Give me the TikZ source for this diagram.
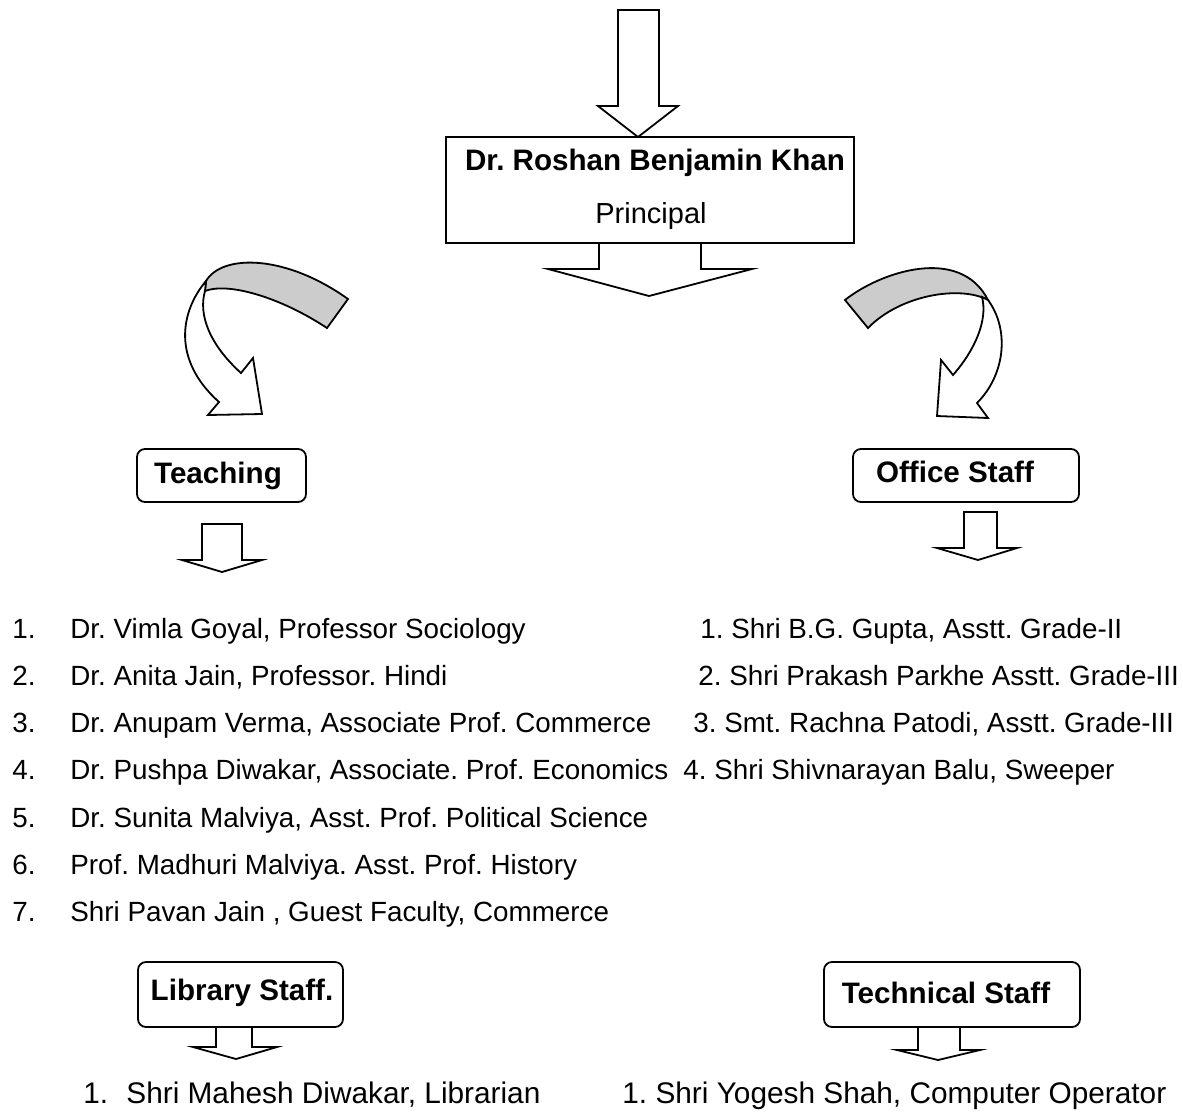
\documentclass[tikz,border=0pt]{standalone}
\usepackage{fontspec}
\setmainfont{Liberation Sans}
\usepackage{tikz}
\frenchspacing

\definecolor{bandgrey}{RGB}{204,204,204}
\tikzset{
  outline/.style={line width=0.9pt, line join=miter},
  staffbox/.style={outline, rounded corners=4pt},
  heading/.style={inner sep=0pt, anchor=base, font=\fontsize{14.8}{17}\selectfont\bfseries},
  plainhead/.style={inner sep=0pt, anchor=base, font=\fontsize{14.5}{17}\selectfont},
  listtext/.style={inner sep=0pt, anchor=base west, font=\fontsize{13.9}{16}\selectfont},
  bigtext/.style={inner sep=0pt, anchor=base west, font=\fontsize{14.9}{17}\selectfont},
}

\begin{document}
\begin{tikzpicture}[x=0.5pt,y=0.5pt,yscale=-1,xscale=1]
\useasboundingbox (0,0) rectangle (1183,1115);

%Shape: Down Arrow [id:top]
\draw [outline] (618,10) -- (659,10) -- (659,106) -- (678,106) -- (638,137) -- (598,106) -- (618,106) -- cycle ;
%Shape: Rectangle [id:principal]
\draw [outline] (446,137) rectangle (854,243) ;
%Shape: Down Arrow [id:principal out]
\draw [outline] (599,243) -- (599,269) -- (548,269) -- (649,296) -- (752,269) -- (701,269) -- (701,243) ;

%Curved Arrow [id:left]
\draw [outline, fill=bandgrey] (206,281) .. controls (222,254) and (285,254) .. (348,299) -- (327,328) .. controls (280,297) and (228,282) .. (205,291) -- cycle ;
\draw [outline, fill=white] (206,281) .. controls (180,312) and (172,360) .. (219,402) -- (208,415) -- (262,414) -- (253,358) -- (241,373) .. controls (210,345) and (198,315) .. (205,291) -- cycle ;
%Curved Arrow [id:right]
\draw [outline, fill=bandgrey] (845,300) .. controls (880,272) and (960,245) .. (988,300) .. controls (960,285) and (900,295) .. (868,328) -- cycle ;
\draw [outline, fill=white] (988,300) .. controls (1010,330) and (1005,375) .. (977,403) -- (988,418) -- (937,416) -- (941,360) -- (953,375) .. controls (975,350) and (988,320) .. (982,297) -- cycle ;

%Shape: Rounded Rectangle [id:teaching]
\draw [staffbox] (137,449) rectangle (306,502) ;
%Shape: Down Arrow [id:teaching out]
\draw [outline] (202,524) -- (242,524) -- (242,560) -- (262,560) -- (222,572) -- (182,560) -- (202,560) -- cycle ;
%Shape: Rounded Rectangle [id:office]
\draw [staffbox] (853,449) rectangle (1079,502) ;
%Shape: Down Arrow [id:office out]
\draw [outline] (964,512) -- (997,512) -- (997,548) -- (1017,548) -- (978,560) -- (937,548) -- (964,548) -- cycle ;
%Shape: Rounded Rectangle [id:library]
\draw [staffbox] (138,962) rectangle (343,1027) ;
%Shape: Down Arrow [id:library out]
\draw [outline] (216,1027) -- (216,1047) -- (193,1047) -- (236,1059) -- (277,1047) -- (252,1047) -- (252,1027) ;
%Shape: Rounded Rectangle [id:technical]
\draw [staffbox] (824,962) rectangle (1080,1027) ;
%Shape: Down Arrow [id:technical out]
\draw [outline] (918,1027) -- (918,1050) -- (897,1050) -- (938,1060) -- (980,1050) -- (960,1050) -- (960,1027) ;

% Text Node
\node (head) at (655,170) [heading] {Dr. Roshan Benjamin Khan};
% Text Node
\node (post) at (651,223) [plainhead] {Principal};
% Text Node
\node (teach) at (218,483) [heading] {Teaching};
% Text Node
\node (office) at (955,482) [heading] {Office Staff};
% Text Node
\node (lib) at (242,1000) [heading] {Library Staff.};
% Text Node
\node (tech) at (946,1003) [heading] {Technical Staff};

% Teaching list
\foreach \txt [count=\i] in {{Dr. Vimla Goyal, Professor Sociology},
    {Dr. Anita Jain, Professor. Hindi},
    {Dr. Anupam Verma, Associate Prof. Commerce},
    {Dr. Pushpa Diwakar, Associate. Prof. Economics},
    {Dr. Sunita Malviya, Asst. Prof. Political Science},
    {Prof. Madhuri Malviya. Asst. Prof. History},
    {Shri Pavan Jain , Guest Faculty, Commerce}}
  {
  \node (tnum\i) at (12,{638+47.3*(\i-1)}) [listtext] {\i.};
  \node (t\i) at (70,{638+47.3*(\i-1)}) [listtext] {\txt};
  }

% Office list
\foreach \x/\txt [count=\i] in {700/{1. Shri B.G. Gupta, Asstt. Grade-II},
    698/{2. Shri Prakash Parkhe Asstt. Grade-III},
    693/{3. Smt. Rachna Patodi, Asstt. Grade-III},
    683/{4. Shri Shivnarayan Balu, Sweeper}}
  {
  \node (o\i) at (\x,{638+47.3*(\i-1)}) [listtext] {\txt};
  }

% Text Node
\node (lnum1) at (83,1103) [bigtext] {1.};
\node (l1) at (126,1103) [bigtext] {Shri Mahesh Diwakar, Librarian};
% Text Node
\node (c1) at (622,1103) [bigtext] {1. Shri Yogesh Shah, Computer Operator};

\end{tikzpicture}
\end{document}
